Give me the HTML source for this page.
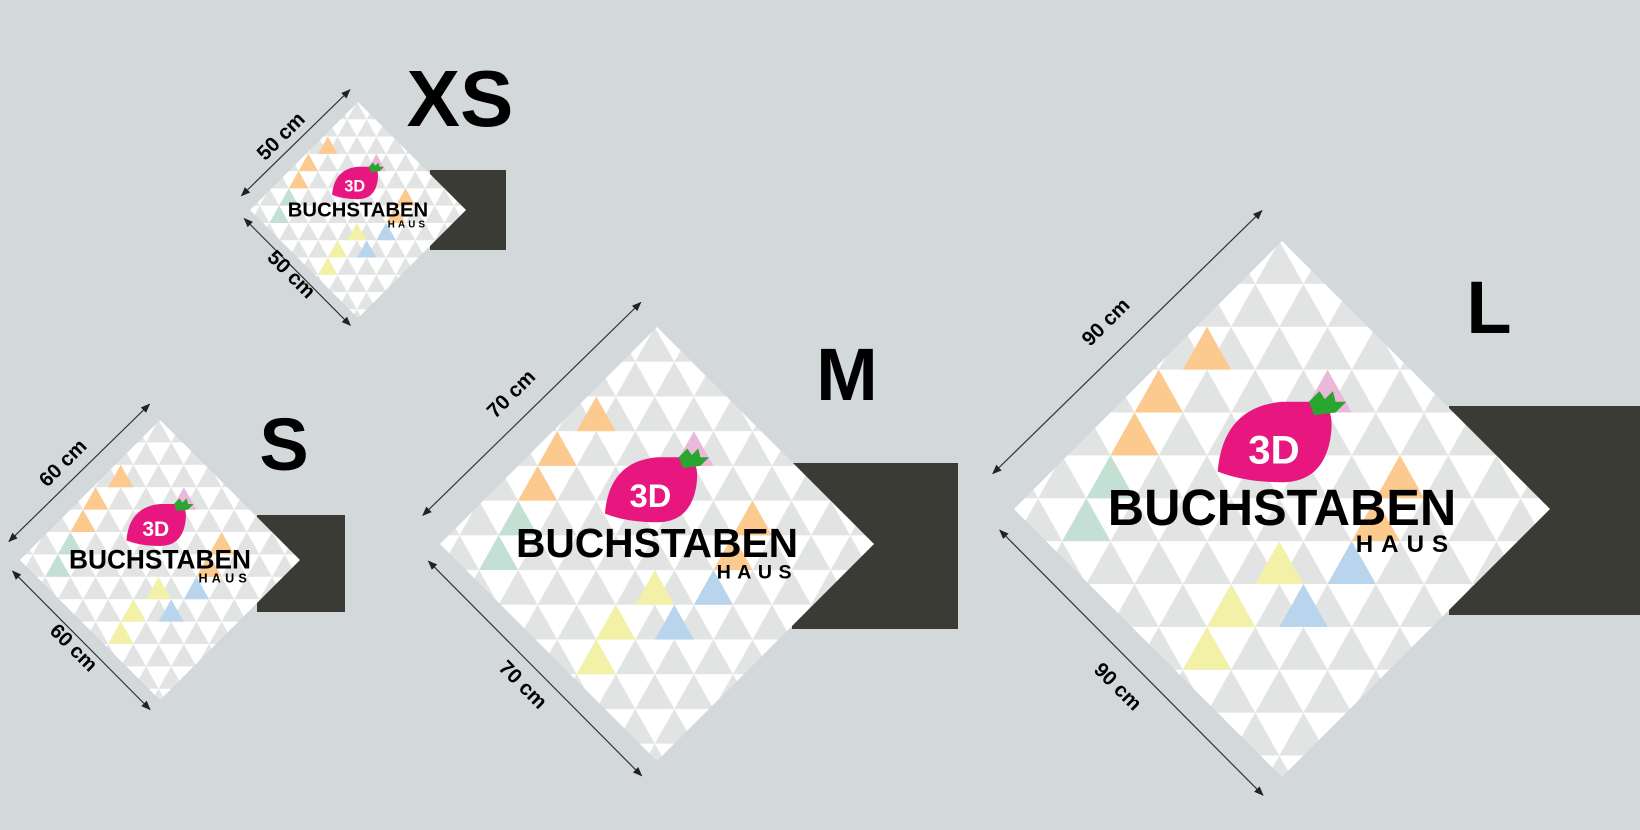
<!DOCTYPE html>
<html><head><meta charset="utf-8"><style>
html,body{margin:0;padding:0;background:#d3d8db;}
svg{display:block;}
text{font-family:"Liberation Sans","DejaVu Sans",sans-serif;font-weight:bold;}
</style></head><body>
<svg width="1640" height="830" viewBox="0 0 1640 830" xmlns="http://www.w3.org/2000/svg">
<defs>
<pattern id="tri" patternUnits="userSpaceOnUse" width="18" height="32">
<rect width="18" height="32" fill="#ffffff"/>
<polygon points="0,16 9,0 18,16" fill="#e2e4e4"/>
<polygon points="-9,32 0,16 9,32" fill="#e2e4e4"/>
<polygon points="9,32 18,16 27,32" fill="#e2e4e4"/>
</pattern>
<clipPath id="dia"><polygon points="100,0 200,100 100,200 0,100"/></clipPath>
<marker id="ah" markerUnits="strokeWidth" markerWidth="8" markerHeight="8" viewBox="0 0 10 10" refX="9" refY="5" orient="auto-start-reverse"><path d="M0,1 L10,5 L0,9 z" fill="#222"/></marker>
</defs>
<rect width="1640" height="830" fill="#d3d8db"/>

<rect x="430" y="170" width="76" height="80" fill="#3b3b36"/>
<rect x="257" y="515" width="88" height="97" fill="#3b3b36"/>
<rect x="792" y="463" width="166" height="166" fill="#3b3b36"/>
<rect x="1449" y="406" width="191" height="209" fill="#3b3b36"/>

<text x="460" y="126" font-size="80" text-anchor="middle" fill="#000">XS</text>
<text x="284" y="470" font-size="74" text-anchor="middle" fill="#000">S</text>
<text x="847" y="400" font-size="74" text-anchor="middle" fill="#000">M</text>
<text x="1489" y="333" font-size="74" text-anchor="middle" fill="#000">L</text>

<!-- XS -->
<g transform="translate(250,102) scale(1.08)">
<g clip-path="url(#dia)">
<rect width="200" height="200" fill="url(#tri)"/>
<polygon points="63,48 72,32 81,48" fill="#fcc98e"/><polygon points="45,64 54,48 63,64" fill="#fcc98e"/><polygon points="36,80 45,64 54,80" fill="#fcc98e"/>
<polygon points="108,64 117,48 126,64" fill="#eab9d9"/>
<polygon points="135,96 144,80 153,96" fill="#fcc98e"/><polygon points="126,112 135,96 144,112" fill="#fcc98e"/>
<polygon points="27,96 36,80 45,96" fill="#c4e0d4"/><polygon points="18,112 27,96 36,112" fill="#c4e0d4"/>
<polygon points="90,128 99,112 108,128" fill="#f3f1a8"/><polygon points="72,144 81,128 90,144" fill="#f3f1a8"/><polygon points="63,160 72,144 81,160" fill="#f3f1a8"/>
<polygon points="117,128 126,112 135,128" fill="#b9d5ee"/><polygon points="99,144 108,128 117,144" fill="#b9d5ee"/>
</g>
<path d="M76,86 Q78,62 100,60 L114,60 Q120,62 118,74 Q115,90 100,90 Q86,90 76,86 Z" fill="#e8167f"/>
<path d="M110,60 l4,-4 l2,3 l3,-3 l1,4 l4,0 l-4,4 l-8,1 z" fill="#2aa52f"/>
<text x="97" y="83" font-size="15" text-anchor="middle" fill="#fff">3D</text>
<text x="100" y="106" font-size="19" text-anchor="middle" fill="#000" textLength="130" lengthAdjust="spacingAndGlyphs">BUCHSTABEN</text>
<text x="165" y="116" font-size="9" text-anchor="end" fill="#000" letter-spacing="3">HAUS</text>
<line x1="-7.9" y1="86.8" x2="92.5" y2="-11.3" stroke="#333" stroke-width="1.1" marker-start="url(#ah)" marker-end="url(#ah)"/>
<line x1="-5.3" y1="107.9" x2="92.9" y2="206.8" stroke="#333" stroke-width="1.1" marker-start="url(#ah)" marker-end="url(#ah)"/>
<text x="33" y="36" font-size="19" text-anchor="middle" transform="rotate(-45 33 36)" fill="#000">50 cm</text>
<text x="34" y="164" font-size="19" text-anchor="middle" transform="rotate(45 34 164)" fill="#000">50 cm</text>
</g>

<!-- S -->
<g transform="translate(20,420) scale(1.4)">
<g clip-path="url(#dia)">
<rect width="200" height="200" fill="url(#tri)"/>
<polygon points="63,48 72,32 81,48" fill="#fcc98e"/><polygon points="45,64 54,48 63,64" fill="#fcc98e"/><polygon points="36,80 45,64 54,80" fill="#fcc98e"/>
<polygon points="108,64 117,48 126,64" fill="#eab9d9"/>
<polygon points="135,96 144,80 153,96" fill="#fcc98e"/><polygon points="126,112 135,96 144,112" fill="#fcc98e"/>
<polygon points="27,96 36,80 45,96" fill="#c4e0d4"/><polygon points="18,112 27,96 36,112" fill="#c4e0d4"/>
<polygon points="90,128 99,112 108,128" fill="#f3f1a8"/><polygon points="72,144 81,128 90,144" fill="#f3f1a8"/><polygon points="63,160 72,144 81,160" fill="#f3f1a8"/>
<polygon points="117,128 126,112 135,128" fill="#b9d5ee"/><polygon points="99,144 108,128 117,144" fill="#b9d5ee"/>
</g>
<path d="M76,86 Q78,62 100,60 L114,60 Q120,62 118,74 Q115,90 100,90 Q86,90 76,86 Z" fill="#e8167f"/>
<path d="M110,60 l4,-4 l2,3 l3,-3 l1,4 l4,0 l-4,4 l-8,1 z" fill="#2aa52f"/>
<text x="97" y="83" font-size="15" text-anchor="middle" fill="#fff">3D</text>
<text x="100" y="106" font-size="19" text-anchor="middle" fill="#000" textLength="130" lengthAdjust="spacingAndGlyphs">BUCHSTABEN</text>
<text x="165" y="116" font-size="9" text-anchor="end" fill="#000" letter-spacing="3">HAUS</text>
<line x1="-7.9" y1="86.8" x2="92.5" y2="-11.3" stroke="#333" stroke-width="0.85" marker-start="url(#ah)" marker-end="url(#ah)"/>
<line x1="-5.3" y1="107.9" x2="92.9" y2="206.8" stroke="#333" stroke-width="0.85" marker-start="url(#ah)" marker-end="url(#ah)"/>
<text x="34" y="34" font-size="14.5" text-anchor="middle" transform="rotate(-45 34 34)" fill="#000">60 cm</text>
<text x="35" y="166" font-size="14.5" text-anchor="middle" transform="rotate(45 35 166)" fill="#000">60 cm</text>
</g>

<!-- M -->
<g transform="translate(440,327) scale(2.17)">
<g clip-path="url(#dia)">
<rect width="200" height="200" fill="url(#tri)"/>
<polygon points="63,48 72,32 81,48" fill="#fcc98e"/><polygon points="45,64 54,48 63,64" fill="#fcc98e"/><polygon points="36,80 45,64 54,80" fill="#fcc98e"/>
<polygon points="108,64 117,48 126,64" fill="#eab9d9"/>
<polygon points="135,96 144,80 153,96" fill="#fcc98e"/><polygon points="126,112 135,96 144,112" fill="#fcc98e"/>
<polygon points="27,96 36,80 45,96" fill="#c4e0d4"/><polygon points="18,112 27,96 36,112" fill="#c4e0d4"/>
<polygon points="90,128 99,112 108,128" fill="#f3f1a8"/><polygon points="72,144 81,128 90,144" fill="#f3f1a8"/><polygon points="63,160 72,144 81,160" fill="#f3f1a8"/>
<polygon points="117,128 126,112 135,128" fill="#b9d5ee"/><polygon points="99,144 108,128 117,144" fill="#b9d5ee"/>
</g>
<path d="M76,86 Q78,62 100,60 L114,60 Q120,62 118,74 Q115,90 100,90 Q86,90 76,86 Z" fill="#e8167f"/>
<path d="M110,60 l4,-4 l2,3 l3,-3 l1,4 l4,0 l-4,4 l-8,1 z" fill="#2aa52f"/>
<text x="97" y="83" font-size="15" text-anchor="middle" fill="#fff">3D</text>
<text x="100" y="106" font-size="19" text-anchor="middle" fill="#000" textLength="130" lengthAdjust="spacingAndGlyphs">BUCHSTABEN</text>
<text x="165" y="116" font-size="9" text-anchor="end" fill="#000" letter-spacing="3">HAUS</text>
<line x1="-7.9" y1="86.8" x2="92.5" y2="-11.3" stroke="#333" stroke-width="0.55" marker-start="url(#ah)" marker-end="url(#ah)"/>
<line x1="-5.3" y1="107.9" x2="92.9" y2="206.8" stroke="#333" stroke-width="0.55" marker-start="url(#ah)" marker-end="url(#ah)"/>
<text x="35" y="33" font-size="9.5" text-anchor="middle" transform="rotate(-45 35 33)" fill="#000">70 cm</text>
<text x="36" y="167" font-size="9.5" text-anchor="middle" transform="rotate(45 36 167)" fill="#000">70 cm</text>
</g>

<!-- L -->
<g transform="translate(1014,241) scale(2.68)">
<g clip-path="url(#dia)">
<rect width="200" height="200" fill="url(#tri)"/>
<polygon points="63,48 72,32 81,48" fill="#fcc98e"/><polygon points="45,64 54,48 63,64" fill="#fcc98e"/><polygon points="36,80 45,64 54,80" fill="#fcc98e"/>
<polygon points="108,64 117,48 126,64" fill="#eab9d9"/>
<polygon points="135,96 144,80 153,96" fill="#fcc98e"/><polygon points="126,112 135,96 144,112" fill="#fcc98e"/>
<polygon points="27,96 36,80 45,96" fill="#c4e0d4"/><polygon points="18,112 27,96 36,112" fill="#c4e0d4"/>
<polygon points="90,128 99,112 108,128" fill="#f3f1a8"/><polygon points="72,144 81,128 90,144" fill="#f3f1a8"/><polygon points="63,160 72,144 81,160" fill="#f3f1a8"/>
<polygon points="117,128 126,112 135,128" fill="#b9d5ee"/><polygon points="99,144 108,128 117,144" fill="#b9d5ee"/>
</g>
<path d="M76,86 Q78,62 100,60 L114,60 Q120,62 118,74 Q115,90 100,90 Q86,90 76,86 Z" fill="#e8167f"/>
<path d="M110,60 l4,-4 l2,3 l3,-3 l1,4 l4,0 l-4,4 l-8,1 z" fill="#2aa52f"/>
<text x="97" y="83" font-size="15" text-anchor="middle" fill="#fff">3D</text>
<text x="100" y="106" font-size="19" text-anchor="middle" fill="#000" textLength="130" lengthAdjust="spacingAndGlyphs">BUCHSTABEN</text>
<text x="165" y="116" font-size="9" text-anchor="end" fill="#000" letter-spacing="3">HAUS</text>
<line x1="-7.9" y1="86.8" x2="92.5" y2="-11.3" stroke="#333" stroke-width="0.45" marker-start="url(#ah)" marker-end="url(#ah)"/>
<line x1="-5.3" y1="107.9" x2="92.9" y2="206.8" stroke="#333" stroke-width="0.45" marker-start="url(#ah)" marker-end="url(#ah)"/>
<text x="36" y="32" font-size="7.6" text-anchor="middle" transform="rotate(-45 36 32)" fill="#000">90 cm</text>
<text x="37" y="168" font-size="7.6" text-anchor="middle" transform="rotate(45 37 168)" fill="#000">90 cm</text>
</g>
</svg>
</body></html>
